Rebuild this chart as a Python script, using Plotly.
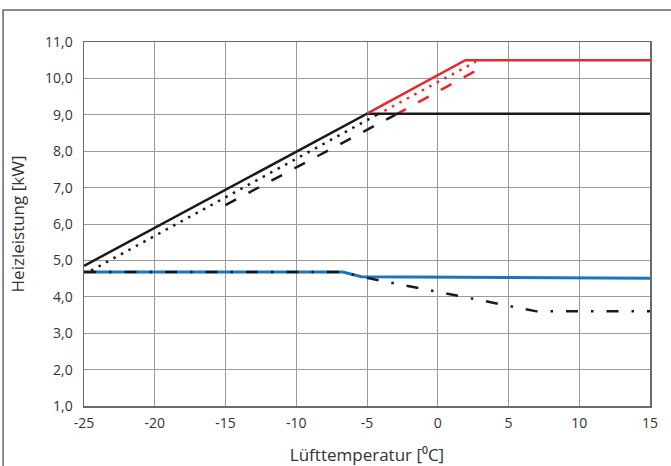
import plotly.graph_objects as go

# --- data ---
x_ticks = [-25, -20, -15, -10, -5, 0, 5, 10, 15]
y_ticks = [1, 2, 3, 4, 5, 6, 7, 8, 9, 10, 11]
y_tick_labels = ["1,0", "2,0", "3,0", "4,0", "5,0", "6,0", "7,0", "8,0", "9,0", "10,0", "11,0"]

black_solid_x = [-25, -5, 15]
black_solid_y = [4.85, 9.03, 9.03]
red_solid_x = [-5, 1.95, 15]
red_solid_y = [9.03, 10.5, 10.5]

black_dot_x = [-24.5, -4.3]
black_dot_y = [4.72, 9.0]
red_dot_x = [-4.3, 2.7]
red_dot_y = [9.0, 10.46]

black_dash_x = [-15, -3.0]
black_dash_y = [6.52, 9.0]
red_dash_x = [-3.0, 3.1]
red_dash_y = [9.0, 10.3]

blue_x = [-25, -6.7, -5.4, 15]
blue_y = [4.68, 4.68, 4.55, 4.51]

dashdot_x = [-25, -6.7, -5.4, 0, 5, 7, 15]
dashdot_y = [4.68, 4.68, 4.55, 4.14, 3.76, 3.6, 3.6]

RED = "#e8262b"
BLUE = "#1b75bc"
BLACK = "#1a1a1a"

fig = go.Figure()

def add(x, y, color, width, dash="solid"):
    fig.add_trace(go.Scatter(x=x, y=y, mode="lines",
                             line=dict(color=color, width=width, dash=dash),
                             showlegend=False, hoverinfo="skip"))

add(blue_x, blue_y, BLUE, 3)
add(dashdot_x, dashdot_y, BLACK, 2.5, "12px,13px,2.5px,13px")
add(black_dot_x, black_dot_y, BLACK, 2.5, "2.5px,6px")
add(red_dot_x, red_dot_y, RED, 2.5, "2.5px,6px")
add(black_dash_x, black_dash_y, BLACK, 2.5, "12px,14px")
add(red_dash_x, red_dash_y, RED, 2.5, "12px,14px")
add(black_solid_x, black_solid_y, BLACK, 2.5)
add(red_solid_x, red_solid_y, RED, 2.5)

font_family = "'Open Sans', sans-serif"

fig.update_layout(
    width=671, height=466,
    margin=dict(l=84, r=21, t=42, b=60),
    paper_bgcolor="white", plot_bgcolor="white",
    font=dict(family=font_family, size=14, color="#333333"),
    xaxis=dict(range=[-25, 15], tickvals=x_ticks, ticktext=[str(v) for v in x_ticks],
               showgrid=True, gridcolor="#9a9a9a", gridwidth=1,
               showline=True, linecolor="#6a6a6a", linewidth=1.5, mirror=True,
               zeroline=False, ticks="", ticklabelstandoff=4, automargin=False,
               title=dict(text="Lüfttemperatur [⁰C]", standoff=18,
                          font=dict(size=17, color="#333333"))),
    yaxis=dict(range=[1, 11], tickvals=y_ticks, ticktext=y_tick_labels,
               showgrid=True, gridcolor="#9a9a9a", gridwidth=1,
               showline=True, linecolor="#6a6a6a", linewidth=1.5, mirror=True,
               zeroline=False, ticks="", ticklabelstandoff=7, automargin=False,
               title=dict(text="Heizleistung [kW]", standoff=16,
                          font=dict(size=17, color="#333333"))),
    shapes=[dict(type="rect", xref="paper", yref="paper",
                 x0=-0.143, x1=1.06, y0=-0.2, y1=1.088,
                 line=dict(color="#666666", width=1.5), layer="below")],
)

fig.write_html("out.html",
               config={"displayModeBar": False, "staticPlot": True},
               post_script="document.body.style.margin='0';document.body.style.overflow='hidden';")
